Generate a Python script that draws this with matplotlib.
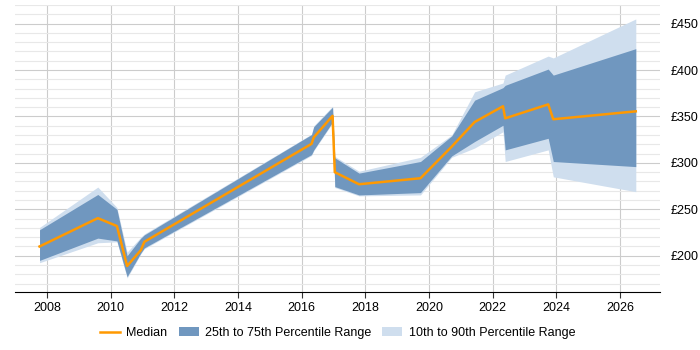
import matplotlib
matplotlib.use("Agg")
import matplotlib.pyplot as plt
from matplotlib.ticker import MultipleLocator, FuncFormatter

plt.rcParams["font.family"] = ["Liberation Sans", "DejaVu Sans"]

# Year positions of the data points
years = [2007.77, 2009.60, 2010.20, 2010.52, 2010.95, 2011.06, 2016.31, 2016.38,
         2016.97, 2017.04, 2017.80, 2019.73, 2020.71, 2021.43, 2022.32, 2022.39,
         2023.74, 2023.90, 2026.49]

median = [210, 240.5, 232, 189, 206, 215, 320.5, 327.5, 350.7, 290, 277, 283.5,
          317.5, 344, 361, 348, 363, 347, 355.5]
p75 = [228, 266, 250, 200, 219, 222.5, 330.5, 339, 360, 305.5, 289, 301.5,
       329, 367.5, 381, 383.5, 401, 394.5, 423]
p90 = [230.5, 274, 252, 204, 220, 223.5, 331, 340, 361, 307, 291, 306,
       330, 376.5, 386, 394.5, 415, 413, 455]
p25 = [195, 219, 216, 177.5, 203, 208.5, 309, 314, 344, 274.5, 265.5, 268,
       307.5, 323, 340.5, 314, 326.5, 301.5, 296]
p10 = [192.5, 214, 215, 176, 202, 207.5, 308, 313, 343, 273.5, 264.5, 265.5,
       306, 316, 333.5, 301.5, 314, 285, 269]

fig = plt.figure(figsize=(7, 3.5), dpi=100)
ax = fig.add_axes([15 / 700, 1 - 292 / 350, 645 / 700, 287 / 350])

ax.fill_between(years, p10, p90, color="#cfdeee", lw=0, label="10th to 90th Percentile Range")
ax.fill_between(years, p25, p75, color="#7097bf", lw=0, label="25th to 75th Percentile Range")
ax.plot(years, median, color="#ff9900", lw=1.8, label="Median")

ax.set_xlim(2007.0, 2027.25)
ax.set_ylim(161, 470)

ax.xaxis.set_major_locator(MultipleLocator(2))
ax.yaxis.set_minor_locator(MultipleLocator(10))
ax.yaxis.set_major_formatter(FuncFormatter(lambda v, p: f"£{v:.0f}"))
ax.set_yticks(range(200, 451, 50))

ax.yaxis.tick_right()
ax.tick_params(axis="y", which="both", length=0, labelsize=9, pad=8)
ax.tick_params(axis="x", length=4, labelsize=9, color="#333333")

ax.grid(True, which="major", color="#cccccc", lw=0.8)
ax.grid(True, which="minor", axis="y", color="#e8e8e8", lw=0.8)
ax.set_axisbelow(True)

for side in ["top", "left", "right"]:
    ax.spines[side].set_visible(False)
ax.spines["bottom"].set_color("#000000")

handles, labels = ax.get_legend_handles_labels()
order = [2, 1, 0]
ax.legend([handles[i] for i in order], [labels[i] for i in order],
          loc="center", bbox_to_anchor=(337.5 / 700, 1 - 333 / 350),
          bbox_transform=fig.transFigure, ncol=3, frameon=False, fontsize=9,
          handlelength=1.6, handletextpad=0.5, columnspacing=0.9)

fig.savefig("out.png", dpi=100)
